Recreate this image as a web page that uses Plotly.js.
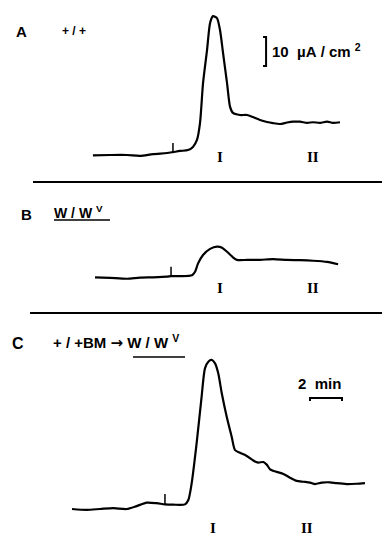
<!DOCTYPE html>
<html><head><meta charset="utf-8">
<script src="https://cdn.plot.ly/plotly-3.0.1.min.js"></script>
<style>html,body{margin:0;padding:0;background:#fff;}#chart{width:382px;height:535px;}</style>
</head><body><div id="chart"></div>
<script>
// ---- data: time (min) and short-circuit current (µA/cm², relative to baseline) ----
const timeA = [1.31,2.38,3.44,4.25,5.06,5.94,6.31,6.75,7.25,7.56,7.81,8.0,8.19,8.44,8.63,8.81,9.06,9.25,9.44,9.69,9.88,10.06,10.5,10.94,11.31,11.75,12.19,12.56,13.0,13.44,13.81,14.25,14.69,15.06,15.5,15.94,16.31,16.75];
const currentA = [0,0.1,0.1,-0.2,0.4,0.8,1.1,1.5,1.8,2.9,5.3,11.1,24.9,36.3,45.6,48.0,47.3,43.2,35.3,24.9,16.7,14.6,13.9,13.9,13.2,12.2,11.5,11.1,10.8,11.3,11.6,11.6,11.2,11.4,11.2,11.6,11.2,11.4];
const stimTimeA = [6.31,6.31];
const stimCurrentA = [1.1,4.2];

const timeB = [1.44,2.38,3.44,4.25,5.06,5.94,6.19,6.75,7.5,7.69,7.88,8.19,8.63,9.06,9.38,9.69,10.06,10.31,10.94,11.75,12.56,13.44,14.25,15.06,15.94,16.63];
const currentB = [0,-0.2,-0.5,-0.1,0,0.2,0.4,0.4,0.7,1.9,4.8,7.7,9.8,10.6,10.2,8.8,6.9,6.0,6.0,6.0,6.3,6.0,5.9,5.7,5.3,4.5];
const stimTimeB = [6.19,6.19];
const stimCurrentB = [0.4,3.6];

const timeC = [0,0.92,1.75,2.58,3.42,4.04,4.67,5.29,5.81,6.33,7.06,7.27,7.48,7.79,8.1,8.31,8.52,8.73,8.94,9.14,9.36,9.67,9.98,10.19,10.5,10.92,11.33,11.64,11.96,12.17,12.38,12.79,13.21,13.63,14.04,14.46,14.88,15.19,15.61,16.13,16.54,17.17,17.79,18.31];
const currentC = [0,-0.3,0,0.3,0,1.0,2.2,2.0,1.6,1.5,1.6,3.1,8.9,22.7,38.7,48.5,50.8,51.4,50.2,46.8,39.9,31.8,24.9,20.3,19.4,18.3,16.7,16.0,16.2,15.3,13.7,12.8,12.1,10.8,9.7,9.4,9.1,8.6,9.1,9.2,8.9,8.6,8.7,8.9];
const stimTimeC = [5.81,5.81];
const stimCurrentC = [1.6,5.2];

// scale bars
const currentBarTime = [11.94,12.13,12.13,11.94];
const currentBarValue = [40.8,40.8,30.8,30.8];     // 10 µA/cm²
const timeBarTime = [14.875,14.875,16.875,16.875]; // 2 min
const timeBarValue = [37.2,38.3,38.3,37.2];

// labels
const NB = '\u00a0';
const panelLetters = ['A','B','C'];
const panelGenotypes = ['+'+NB+'/'+NB+'+',
  'W'+NB+'/'+NB+'W'+NB+'<sup>V</sup>',
  '+'+NB+'/'+NB+'+BM'+NB+'<span style="font-family:DejaVu Sans">\u2192</span>'+NB+'W'+NB+'/'+NB+'W'+NB+'<sup>V</sup>'];
const phaseLabels = ['I','II'];
const phaseTimesA = [9.25,15.06];
const phaseTimesB = [9.25,15.06];
const phaseTimesC = [8.81,14.69];
const currentBarLabel = '10'+NB+NB+'\u00b5A'+NB+'/'+NB+'cm'+NB+'<sup>2</sup>';
const timeBarLabel = '2'+NB+NB+'min';

// ---- layout helpers (pixel geometry) ----
const W = 382, H = 535, PXMIN = 16, X0 = 72, PXUA = 2.9;
const px = x => x / W, py = y => 1 - y / H;
function yr(basePx, topPx, botPx){ return [(basePx-botPx)/PXUA, (basePx-topPx)/PXUA]; }

const lineStyle = {color:'#000', width:2.2, shape:'spline', smoothing:0.7};
const thin = {color:'#000', width:1.5};
const traces = [
  {x:timeA, y:currentA, xaxis:'x', yaxis:'y', mode:'lines', line:lineStyle},
  {x:stimTimeA, y:stimCurrentA, xaxis:'x', yaxis:'y', mode:'lines', line:thin},
  {x:timeB, y:currentB, xaxis:'x', yaxis:'y2', mode:'lines', line:lineStyle},
  {x:stimTimeB, y:stimCurrentB, xaxis:'x', yaxis:'y2', mode:'lines', line:thin},
  {x:timeC, y:currentC, xaxis:'x', yaxis:'y3', mode:'lines', line:lineStyle},
  {x:stimTimeC, y:stimCurrentC, xaxis:'x', yaxis:'y3', mode:'lines', line:thin},
  {x:currentBarTime, y:currentBarValue, xaxis:'x', yaxis:'y', mode:'lines', line:{color:'#000',width:2}},
  {x:timeBarTime, y:timeBarValue, xaxis:'x', yaxis:'y3', mode:'lines', line:{color:'#000',width:2}}
];

const sans = 'Liberation Sans, Arial, sans-serif';
const serif = 'Liberation Serif, Times New Roman, serif';
const ann = [];
function txt(text, x, y, size, family, xanchor){
  ann.push({text:'<b>'+text+'</b>', x:px(x), y:py(y), xref:'paper', yref:'paper', showarrow:false,
    xanchor:xanchor||'left', yanchor:'middle', font:{family:family||sans, size:size, color:'#000'}});
}
txt(panelLetters[0], 14, 31, 15);
txt(panelLetters[1], 19, 215, 15);
txt(panelLetters[2], 10, 343, 16);
txt(panelGenotypes[0], 60, 31, 12);
txt(panelGenotypes[1], 52, 212, 14);
txt(panelGenotypes[2], 51, 342, 15);
txt(currentBarLabel, 270, 50, 15);
txt(timeBarLabel, 296, 384, 15);
[[phaseTimesA,157],[phaseTimesB,288],[phaseTimesC,528]].forEach(([ts,y])=>{
  ts.forEach((t,i)=>{
    ann.push({text:'<b>'+phaseLabels[i]+'</b>', x:t, y:py(y), xref:'x', yref:'paper', showarrow:false,
      xanchor:'center', yanchor:'middle', font:{family:serif, size:15, color:'#000'}});
  });
});

const shapes = [
  {type:'line', xref:'paper', yref:'paper', x0:px(33), x1:1, y0:py(182), y1:py(182), line:{color:'#000',width:2}},
  {type:'line', xref:'paper', yref:'paper', x0:px(30), x1:1, y0:py(313), y1:py(313), line:{color:'#000',width:2}},
  {type:'line', xref:'paper', yref:'paper', x0:px(54), x1:px(110), y0:py(220), y1:py(220), line:{color:'#000',width:1.5}},
  {type:'line', xref:'paper', yref:'paper', x0:px(133), x1:px(185), y0:py(357), y1:py(357), line:{color:'#000',width:1.5}}
];

const axisOff = {visible:false, fixedrange:true};
const layout = {
  width:W, height:H, margin:{l:0,r:0,t:0,b:0}, showlegend:false,
  paper_bgcolor:'#fff', plot_bgcolor:'#fff',
  xaxis:Object.assign({range:[(0-X0)/PXMIN,(W-X0)/PXMIN], domain:[0,1], anchor:'y3'}, axisOff),
  yaxis:Object.assign({domain:[py(182),1], range:yr(155.3,0,182)}, axisOff),
  yaxis2:Object.assign({domain:[py(313),py(182)], range:yr(277.3,182,313)}, axisOff),
  yaxis3:Object.assign({domain:[0,py(313)], range:yr(509,313,535)}, axisOff),
  annotations:ann, shapes:shapes
};
Plotly.newPlot('chart', traces, layout, {staticPlot:true, displayModeBar:false});
</script></body></html>
